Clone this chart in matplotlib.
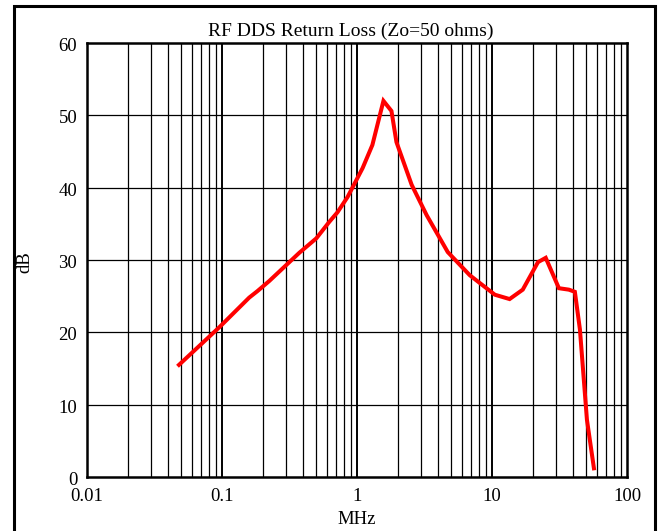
import matplotlib
matplotlib.use("Agg")
import matplotlib.pyplot as plt
from matplotlib.patches import Rectangle
from matplotlib.ticker import FixedLocator, NullFormatter
from matplotlib.transforms import ScaledTranslation

freq_mhz = [0.048, 0.0955, 0.159, 0.183, 0.224, 0.374, 0.50, 0.625, 0.717, 0.851,
            1.10, 1.30, 1.57, 1.80, 1.96, 2.54, 3.28, 4.70, 6.84, 8.54,
            10.5, 13.5, 16.9, 21.9, 25.0, 31.3, 37.1, 41.1, 44.8, 50.5, 56.9]
return_loss_db = [15.5, 20.7, 24.8, 25.7, 27.1, 31.0, 33.0, 35.3, 36.6, 38.7,
                  42.7, 45.9, 52.0, 50.6, 46.3, 40.4, 36.2, 31.1, 27.9, 26.5,
                  25.2, 24.6, 25.9, 29.7, 30.3, 26.1, 25.9, 25.6, 20.4, 7.9, 1.2]
x_ticks = [0.01, 0.1, 1, 10, 100]
x_tick_labels = ["0.01", "0.1", "1", "10", "100"]
y_ticks = [0, 10, 20, 30, 40, 50, 60]

plt.rcParams['font.family'] = ['Liberation Serif', 'DejaVu Serif']

fig = plt.figure(figsize=(6.6, 5.31), dpi=100)
W, H = 660, 531
ax = fig.add_axes([87 / W, 1 - 477 / H, (627 - 87) / W, (477 - 43) / H])

# grid
minor = [m * 10.0 ** e for e in range(-2, 2) for m in range(2, 10)]
for v in minor:
    ax.axvline(v, color='black', lw=0.9, zorder=1)
for v in x_ticks[1:-1]:
    ax.axvline(v, color='black', lw=1.4, zorder=1)
for v in y_ticks[1:-1]:
    ax.axhline(v, color='black', lw=0.9, zorder=1)

ax.plot(freq_mhz, return_loss_db, color='#ff0000', lw=2.9, zorder=3,
        solid_joinstyle='miter')

ax.set_xscale('log')
ax.set_xlim(0.01, 100)
ax.set_ylim(0, 60)
ax.xaxis.set_major_locator(FixedLocator(x_ticks))
ax.set_xticklabels(x_tick_labels)
ax.xaxis.set_minor_formatter(NullFormatter())
ax.set_yticks(y_ticks)
ax.tick_params(axis='both', which='both', length=0, labelsize=13.5)
ax.tick_params(axis='x', pad=8)
ax.tick_params(axis='y', pad=7)
shift = ScaledTranslation(0, -1.5 / 100, fig.dpi_scale_trans)
for lab in ax.get_yticklabels():
    lab.set_transform(lab.get_transform() + shift)
for s in ax.spines.values():
    s.set_linewidth(1.8)

ax.set_title("RF DDS Return Loss (Zo=50 ohms)", fontsize=14, pad=5,
             x=(351 - 87) / (627 - 87))
ax.set_xlabel("MHz", fontsize=13.5, labelpad=4)
fig.text(25 / W, 1 - 262 / H, "dB", rotation=90, fontsize=13.5,
         ha='center', va='center')

fig.add_artist(Rectangle((14 / W, -0.05), (655 - 14) / W, 1.05 - 6 / H,
                         transform=fig.transFigure, fill=False,
                         edgecolor='black', lw=2.2, clip_on=False))

fig.savefig("out.png", dpi=100)
